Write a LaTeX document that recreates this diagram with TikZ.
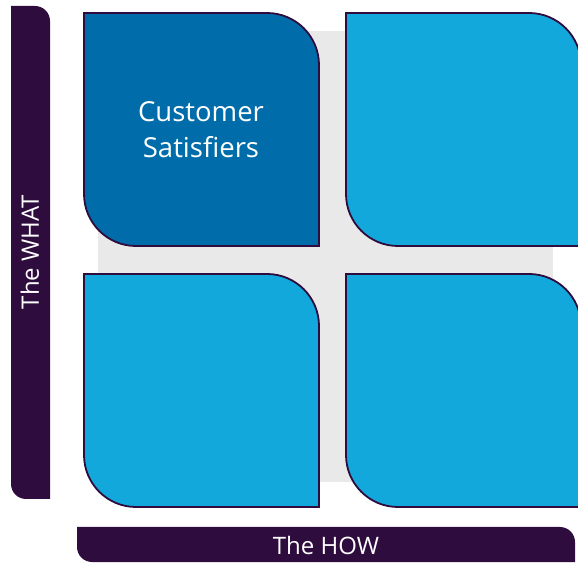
\documentclass[tikz,border=0pt]{standalone}
\usepackage{fontspec}
\setmainfont{Open Sans}
\definecolor{aubergine}{HTML}{2F0C3E}
\definecolor{deepblue}{HTML}{006DAA}
\definecolor{skyblue}{HTML}{13A8DB}
\definecolor{panelgrey}{HTML}{E9E9E9}

% leaf shape: top-right and bottom-left corners rounded
% #1 left, #2 right, #3 top, #4 bottom, #5 radius
\newcommand\leafpath[5]{(#1,#3) -- ({#2-#5},#3)
  arc[start angle=90,end angle=0,radius=#5] -- (#2,#4) -- ({#1+#5},#4)
  arc[start angle=270,end angle=180,radius=#5] -- cycle}

\begin{document}
\begin{tikzpicture}[x=1pt,y=1pt,
  tile/.style={draw=aubergine,line width=1.8pt,fill=skyblue},
  axisbar/.style={fill=aubergine},
  label/.style={text=white,font=\fontsize{24}{28}\selectfont}]
\useasboundingbox (0,0) rectangle (578,562);

% backdrop
\fill[panelgrey] (98,80) rectangle (553,531);

% axes
\fill[axisbar] \leafpath{11}{50}{556}{63}{15};
\fill[axisbar] \leafpath{77}{575}{35}{0}{15};
\node[label,rotate=90] (what) at (30,310) {The WHAT};
\node[label] (how) at (326,17) {The HOW};

% quadrants
\draw[tile,fill=deepblue] \leafpath{84}{319}{549}{316}{52};
\foreach \lx/\ty in {346/549, 84/288, 346/288}
  \draw[tile] \leafpath{\lx}{\lx+235}{\ty}{\ty-233}{52};

\node[label,align=center,font=\fontsize{27.5}{36}\selectfont] (sat) at (201,432)
  {Customer\\Satisfiers};
\end{tikzpicture}
\end{document}
